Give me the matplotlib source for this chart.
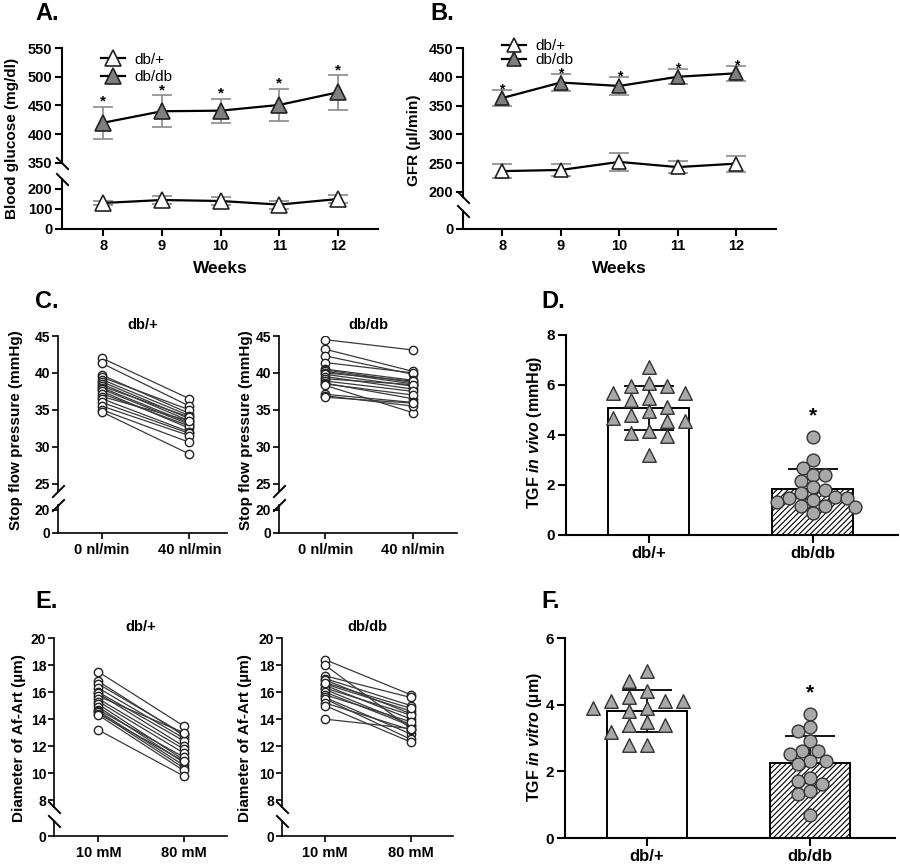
import matplotlib
matplotlib.use('Agg')
import matplotlib.pyplot as plt

plt.rcParams['font.family'] = ['Liberation Sans', 'DejaVu Sans']
plt.rcParams['font.weight'] = 'bold'
plt.rcParams['hatch.linewidth'] = 0.8
plt.rcParams['mathtext.fontset'] = 'custom'
plt.rcParams['mathtext.it'] = 'Liberation Sans:bold:italic'
plt.rcParams['mathtext.rm'] = 'Liberation Sans:bold'

W, H = 900, 864

# A / B: weekly time course (mean, sd)
weeks = [8, 9, 10, 11, 12]
glu_het = [130, 145, 140, 122, 150]
glu_het_sd = [12, 20, 20, 20, 20]
glu_db = [420, 440, 441, 451, 473]
glu_db_sd = [28, 28, 21, 28, 30]
gfr_het = [236, 238, 252, 243, 249]
gfr_het_sd = [12, 10, 16, 10, 14]
gfr_db = [363, 390, 384, 400, 406]
gfr_db_sd = [14, 14, 16, 13, 13]

# C: stop flow pressure, paired (0 nl/min, 40 nl/min)
sfp_het_0 = [42.0, 41.3, 39.7, 39.4, 39.1, 38.8, 38.5, 38.2, 38.0, 37.8, 37.5, 37.2, 36.8, 36.5, 36.0, 35.5, 35.0, 34.7]
sfp_het_40 = [36.5, 35.5, 34.5, 35.0, 34.2, 33.8, 33.5, 34.0, 33.2, 33.0, 32.5, 32.8, 33.5, 32.0, 31.8, 31.5, 30.6, 29.0]
sfp_db_0 = [44.5, 43.2, 42.3, 41.4, 40.5, 40.4, 40.2, 40.0, 39.8, 39.5, 39.2, 38.9, 38.6, 38.5, 38.3, 37.1, 36.9, 36.7]
sfp_db_40 = [43.1, 40.2, 39.8, 40.0, 39.0, 38.7, 38.5, 38.9, 38.2, 37.8, 38.4, 37.5, 36.5, 37.0, 34.6, 36.0, 35.5, 35.9]
flow_labels = ['0 nl/min', '40 nl/min']

# E: Af-Art diameter, paired (10 mM, 80 mM)
dia_het_10 = [17.5, 16.8, 16.6, 16.3, 16.0, 15.9, 15.7, 15.5, 15.3, 15.1, 14.9, 14.7, 14.6, 14.5, 14.4, 14.3, 13.2]
dia_het_80 = [13.5, 12.8, 12.9, 12.6, 12.4, 12.0, 13.0, 11.8, 11.5, 11.0, 10.8, 11.2, 10.6, 10.4, 10.9, 10.2, 9.8]
dia_db_10 = [18.4, 18.0, 17.2, 17.0, 16.9, 16.6, 16.5, 16.3, 16.2, 16.0, 15.8, 15.6, 15.5, 15.2, 15.0, 14.0, 16.7]
dia_db_80 = [15.8, 13.3, 15.6, 15.0, 14.4, 14.6, 14.0, 14.3, 13.6, 13.5, 13.8, 12.9, 12.5, 13.2, 12.3, 13.3, 14.8]
na_labels = ['10 mM', '80 mM']

# D / F: bar + individual points
groups = ['db/+', 'db/db']
tgf_vivo_mean = [5.07, 1.83]
tgf_vivo_sd = [0.88, 0.80]
tgf_vivo_het = [6.71, 5.97, 6.09, 5.97, 5.67, 5.67, 5.40, 5.49, 5.11, 4.97, 4.79, 4.68, 4.57, 4.57, 4.17, 4.09, 3.97, 3.20]
tgf_vivo_db = [3.91, 3.00, 2.69, 2.40, 2.40, 2.17, 1.91, 1.80, 1.69, 1.31, 1.40, 1.47, 1.51, 1.47, 1.17, 1.11, 1.17, 0.89]
tgf_vitro_mean = [3.82, 2.26]
tgf_vitro_sd = [0.63, 0.81]
tgf_vitro_het = [5.02, 4.70, 4.40, 4.10, 4.10, 4.22, 4.10, 3.90, 3.90, 3.80, 3.48, 3.40, 3.40, 3.18, 2.80, 2.80]
tgf_vitro_db = [3.73, 3.22, 3.33, 2.90, 2.60, 2.52, 2.60, 2.32, 2.23, 2.32, 1.80, 1.62, 1.72, 1.32, 1.40, 0.70]

fig = plt.figure(figsize=(W / 100, H / 100), dpi=100)


def px_axes(x0, y0, x1, y1):
    return fig.add_axes([x0 / W, 1 - y1 / H, (x1 - x0) / W, (y1 - y0) / H])


def style(ax, lw=1.5, size=10.5, bottom=True, tlen=5, pad=2):
    for s in ['top', 'right']:
        ax.spines[s].set_visible(False)
    ax.spines['left'].set_linewidth(lw)
    ax.spines['bottom'].set_linewidth(lw)
    if not bottom:
        ax.spines['bottom'].set_visible(False)
        ax.tick_params(axis='x', bottom=False, labelbottom=False)
    ax.tick_params(width=lw, length=tlen, labelsize=size, pad=pad)
    ax.set_facecolor('none')


def brk(ax, y, verts):
    ax.plot([0], [y], transform=ax.transAxes, marker=verts, markersize=9,
            color='black', mew=1.4, clip_on=False)


def panel_label(x, y, s):
    fig.text(x / W, 1 - y / H, s, fontsize=17, fontweight='bold', va='center')


def ylabel(x, y, s, size=11):
    fig.text(x / W, 1 - y / H, s, rotation=90, ha='center', va='center',
             fontsize=size, fontweight='bold')


back = [(-1, 1), (1, -1)]
fwd = [(-1, -1), (1, 1)]


def timecourse(up, low, het, het_sd, db, db_sd, ms, star_off, star_size):
    for ax in (up, low):
        ax.errorbar(weeks, het, yerr=het_sd, fmt='none', ecolor='#8a8a8a',
                    elinewidth=1.2, capsize=7, capthick=1.2)
        ax.errorbar(weeks, db, yerr=db_sd, fmt='none', ecolor='#8a8a8a',
                    elinewidth=1.2, capsize=7, capthick=1.2)
        ax.plot(weeks, het, '-^', color='black', lw=1.6, ms=ms, mfc='white',
                mec='#222222', mew=1.2, label='db/+')
        ax.plot(weeks, db, '-^', color='black', lw=1.6, ms=ms, mfc='#7f7f7f',
                mec='#222222', mew=1.2, label='db/db')
    for w, m, s in zip(weeks, db, db_sd):
        up.annotate('*', (w, m + s), xytext=(0, star_off), textcoords='offset points',
                    ha='center', va='center', fontsize=star_size)


# ---------- A ----------
a_up = px_axes(62, 48, 378, 163)
a_lo = px_axes(62, 179, 378, 229)
timecourse(a_up, a_lo, glu_het, glu_het_sd, glu_db, glu_db_sd, 11, 3.5, 11)
a_up.set_ylim(350, 550)
a_up.set_yticks(range(350, 551, 50))
a_lo.set_ylim(0, 250)
a_lo.set_yticks([0, 100, 200])
for ax in (a_up, a_lo):
    ax.set_xlim(7.3, 12.68)
style(a_up, bottom=False)
style(a_lo)
a_lo.set_xticks(weeks)
a_lo.set_xlabel('Weeks', fontsize=12.5, fontweight='bold', labelpad=6)
brk(a_up, 0, back)
brk(a_lo, 1, back)
a_up.legend(loc='upper left', bbox_to_anchor=(0.08, 1.08), frameon=False,
            handlelength=1.6, handletextpad=0.6, labelspacing=0.25,
            prop={'weight': 'normal', 'size': 11})
ylabel(12, 138, 'Blood glucose (mg/dl)')
panel_label(35, 14, 'A.')

# ---------- B ----------
b_up = px_axes(463, 48, 776, 197)
b_lo = px_axes(463, 211, 776, 229)
timecourse(b_up, b_lo, gfr_het, gfr_het_sd, gfr_db, gfr_db_sd, 10, 0.5, 10)
b_up.set_ylim(191, 450)
b_up.set_yticks(range(200, 451, 50))
b_lo.set_ylim(0, 30)
b_lo.set_yticks([0])
for ax in (b_up, b_lo):
    ax.set_xlim(7.33, 12.68)
style(b_up, bottom=False)
style(b_lo)
b_lo.set_xticks(weeks)
b_lo.set_xlabel('Weeks', fontsize=12.5, fontweight='bold', labelpad=6)
brk(b_up, 0, back)
brk(b_lo, 1, back)
b_up.legend(loc='upper left', bbox_to_anchor=(0.08, 1.15), frameon=False,
            handlelength=1.6, handletextpad=0.6, labelspacing=0.0,
            prop={'weight': 'normal', 'size': 11})
ylabel(414, 140, 'GFR (µl/min)')
panel_label(430, 14, 'B.')


# ---------- C / E paired plots ----------
def paired(x0, x1, xlim, ytop, ybot, lotop, lobot, before, after, ylim, yticks,
           lolim, loticks, xlabels, title, mark):
    up = px_axes(x0, ytop, x1, ybot)
    lo = px_axes(x0, lotop, x1, lobot)
    for ax in (up, lo):
        for b, a in zip(before, after):
            ax.plot([0, 1], [b, a], '-o', color='#3a3a3a', lw=0.9, ms=6.0,
                    mfc='white', mec='#222222', mew=1.0)
        ax.set_xlim(*xlim)
    up.set_ylim(*ylim)
    up.set_yticks(yticks)
    lo.set_ylim(*lolim)
    lo.set_yticks(loticks)
    lo.set_xticks([0, 1])
    lo.set_xticklabels(xlabels)
    style(up, lw=1.2, size=10, bottom=False, tlen=4, pad=1.5)
    style(lo, lw=1.2, size=10, tlen=4, pad=1.5)
    lo.tick_params(axis='x', labelsize=10.5, pad=3)
    up.set_title(title, fontsize=10.5, fontweight='bold', pad=5)
    brk(up, 0, mark)
    brk(lo, 1, mark)
    return up, lo


paired(58, 227, (-0.503, 1.43), 336, 491, 505, 533, sfp_het_0, sfp_het_40,
       (24, 45), range(25, 46, 5), (0, 24), [0, 20], flow_labels, 'db/+', fwd)
paired(279, 457, (-0.53, 1.5), 336, 491, 505, 533, sfp_db_0, sfp_db_40,
       (24, 45), range(25, 46, 5), (0, 24), [0, 20], flow_labels, 'db/db', fwd)
ylabel(16, 430, 'Stop flow pressure (mmHg)', 11)
ylabel(246, 430, 'Stop flow pressure (mmHg)', 11)
panel_label(35, 302, 'C.')

paired(54, 227, (-0.52, 1.51), 638, 807, 821, 836, dia_het_10, dia_het_80,
       (7.5, 20), range(8, 21, 2), (0, 1), [0], na_labels, 'db/+', back)
paired(282, 453, (-0.50, 1.49), 638, 807, 821, 836, dia_db_10, dia_db_80,
       (7.5, 20), range(8, 21, 2), (0, 1), [0], na_labels, 'db/db', back)
ylabel(19, 738, 'Diameter of Af-Art (µm)', 11)
ylabel(245, 738, 'Diameter of Af-Art (µm)', 11)
panel_label(35, 602, 'E.')


# ---------- D / F bar + swarm ----------
def swarm(ax, center, vals, diam_px, step_px):
    # greedy beeswarm in pixel space: nearest free offset to the centre
    tr = ax.transData
    px_per_x = tr.transform((1, 0))[0] - tr.transform((0, 0))[0]
    order = sorted(range(len(vals)), key=lambda i: -vals[i])
    placed = []
    xs = [0.0] * len(vals)
    for i in order:
        py = tr.transform((0, vals[i]))[1]
        k = 0
        while True:
            off = (k + 1) // 2 * (-1 if k % 2 else 1) * step_px
            if all((off - ox) ** 2 + (py - oy) ** 2 >= diam_px ** 2 for ox, oy in placed):
                break
            k += 1
        placed.append((off, py))
        xs[i] = center + off / px_per_x
    return xs


def barpanel(x0, y0, x1, y1, means, sds, het, db, ymax, yticks, star_y):
    ax = px_axes(x0, y0, x1, y1)
    ax.set_xlim(-0.503, 1.52)
    ax.set_ylim(0, ymax)
    bars = ax.bar([0, 1], means, width=0.49, color='white', edgecolor='black',
                  linewidth=1.4, zorder=1)
    bars[1].set_hatch('//////')
    ax.errorbar(0, means[0], yerr=sds[0], fmt='none', ecolor='black', elinewidth=1.3,
                capsize=18, capthick=1.3, zorder=2)
    ax.errorbar(1, means[1], yerr=[[0], [sds[1]]], fmt='none', ecolor='black',
                elinewidth=1.3, capsize=18, capthick=1.3, zorder=2)
    xs = swarm(ax, 0, het, 12.5, 18)
    ax.scatter(xs, het, marker='^', s=95, facecolor='#a8a8a8', edgecolor='#333333',
               linewidth=1.0, zorder=3)
    xs = swarm(ax, 1, db, 12, 2)
    ax.scatter(xs, db, marker='o', s=85, facecolor='#a8a8a8', edgecolor='#333333',
               linewidth=1.0, zorder=3)
    ax.text(1, star_y, '*', ha='center', va='center', fontsize=15)
    ax.set_yticks(yticks)
    ax.set_xticks([0, 1])
    ax.set_xticklabels(groups)
    style(ax, lw=1.5, size=11, tlen=6)
    ax.tick_params(axis='x', labelsize=12)
    return ax


barpanel(566, 335, 898, 535, tgf_vivo_mean, tgf_vivo_sd, tgf_vivo_het, tgf_vivo_db,
         8, [0, 2, 4, 6, 8], 4.75)
ylabel(534, 432, r'TGF $\mathit{in\ vivo}$ (mmHg)', 11.5)
panel_label(541, 302, 'D.')

barpanel(565, 638, 895, 838, tgf_vitro_mean, tgf_vitro_sd, tgf_vitro_het, tgf_vitro_db,
         6, [0, 2, 4, 6], 4.35)
ylabel(534, 737, r'TGF $\mathit{in\ vitro}$ (µm)', 11.5)
panel_label(541, 602, 'F.')

fig.savefig('out.png', dpi=100, facecolor='white')
